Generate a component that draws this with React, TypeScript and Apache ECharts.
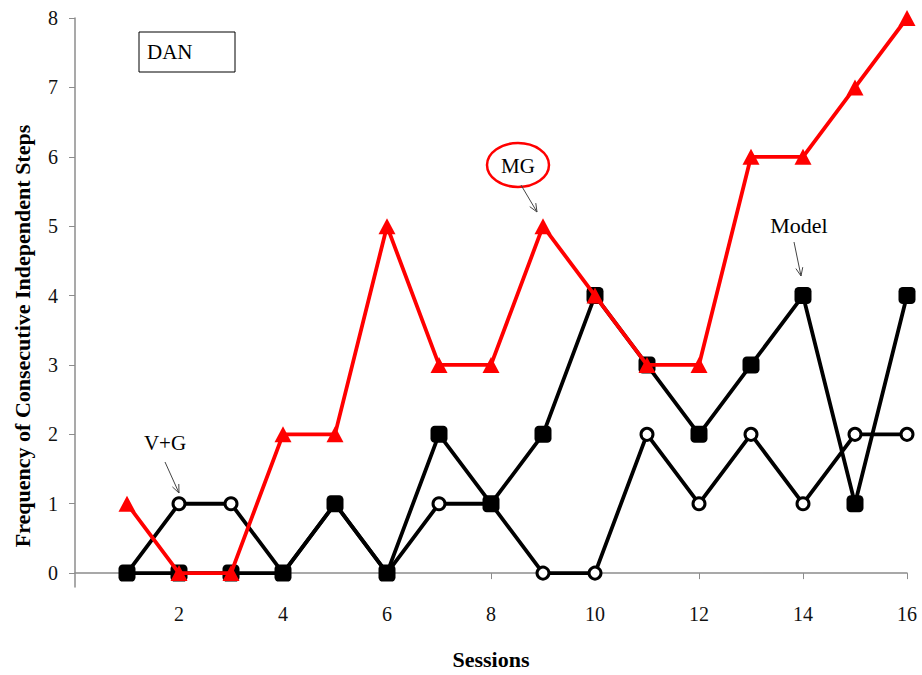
import React, { useEffect, useRef } from "react";
import * as echarts from "echarts";

const sessions = [1, 2, 3, 4, 5, 6, 7, 8, 9, 10, 11, 12, 13, 14, 15, 16];
const vgValues = [0, 1, 1, 0, 1, 0, 1, 1, 0, 0, 2, 1, 2, 1, 2, 2];
const modelValues = [0, 0, 0, 0, 1, 0, 2, 1, 2, 4, 3, 2, 3, 4, 1, 4];
const mgValues = [1, 0, 0, 2, 2, 5, 3, 3, 5, 4, 3, 3, 6, 6, 7, 8];
const xTicks = [2, 4, 6, 8, 10, 12, 14, 16];
const yTicks = [0, 1, 2, 3, 4, 5, 6, 7, 8];

const FONT = "'Liberation Serif', 'Times New Roman', serif";

function arrow(x1: number, y1: number, x2: number, y2: number) {
  const ang = Math.atan2(y2 - y1, x2 - x1);
  const L = 9;
  const spread = 0.4;
  const p1 = [x2 - L * Math.cos(ang - spread), y2 - L * Math.sin(ang - spread)];
  const p2 = [x2 - L * Math.cos(ang + spread), y2 - L * Math.sin(ang + spread)];
  const style = { stroke: "#444", lineWidth: 1, fill: "none" };
  return [
    { type: "line", shape: { x1, y1, x2, y2 }, style, z: 100 },
    { type: "polyline", shape: { points: [p1, [x2, y2], p2] }, style, z: 100 },
  ];
}

export default function App() {
  const ref = useRef<HTMLDivElement>(null);
  useEffect(() => {
    document.body.style.margin = "0";
    document.body.style.overflow = "hidden";
    if (!ref.current) return;
    const chart = echarts.init(ref.current, null, { renderer: "svg" });
    const pair = (vals: number[]) => sessions.map((s, i) => [s, vals[i]]);
    chart.setOption({
      animation: false,
      backgroundColor: "#fff",
      grid: { left: 75, right: 15, top: 18, bottom: 85 },
      xAxis: {
        type: "value",
        min: 0,
        max: 16,
        name: "Sessions",
        nameLocation: "middle",
        nameGap: 61,
        nameTextStyle: { fontFamily: FONT, fontWeight: "bold", fontSize: 22, color: "#000" },
        axisLine: { show: true, lineStyle: { color: "#8c8c8c", width: 1.5 } },
        axisTick: { show: true, customValues: xTicks, length: 6, lineStyle: { color: "#8c8c8c" } },
        axisLabel: { customValues: xTicks, margin: 17, fontFamily: FONT, fontSize: 20, color: "#111" },
        splitLine: { show: false },
      },
      yAxis: {
        type: "value",
        min: -0.2,
        max: 8,
        axisLine: { show: true, lineStyle: { color: "#8c8c8c", width: 1.5 } },
        axisTick: { show: true, customValues: yTicks, length: 6, lineStyle: { color: "#8c8c8c" } },
        axisLabel: { customValues: yTicks, margin: 17, fontFamily: FONT, fontSize: 20, color: "#111" },
        splitLine: { show: false },
      },
      graphic: [
        {
          type: "text",
          x: 22,
          y: 336,
          rotation: Math.PI / 2,
          style: {
            text: "Frequency of Consecutive Independent Steps",
            font: `bold 22px ${FONT}`,
            fill: "#000",
            textAlign: "center",
            textVerticalAlign: "middle",
          },
        },
        {
          type: "rect",
          shape: { x: 139, y: 32, width: 96, height: 40 },
          style: { fill: "#fff", stroke: "#000", lineWidth: 1 },
        },
        {
          type: "text",
          x: 147,
          y: 52,
          style: { text: "DAN", font: `21px ${FONT}`, fill: "#000", textVerticalAlign: "middle" },
        },
        {
          type: "ellipse",
          shape: { cx: 518, cy: 165, rx: 31, ry: 22 },
          style: { fill: "#fff", stroke: "#ff0000", lineWidth: 2.5 },
        },
        {
          type: "text",
          x: 518,
          y: 166,
          style: { text: "MG", font: `21px ${FONT}`, fill: "#000", textAlign: "center", textVerticalAlign: "middle" },
        },
        ...arrow(521, 185, 537, 212),
        {
          type: "text",
          x: 799,
          y: 225,
          style: { text: "Model", font: `22px ${FONT}`, fill: "#000", textAlign: "center", textVerticalAlign: "middle" },
        },
        ...arrow(794, 242, 801, 276),
        {
          type: "text",
          x: 165,
          y: 443,
          style: { text: "V+G", font: `21px ${FONT}`, fill: "#000", textAlign: "center", textVerticalAlign: "middle" },
        },
        ...arrow(165, 462, 179, 493),
      ],
      series: [
        {
          name: "V+G",
          type: "line",
          data: pair(vgValues),
          symbol: "circle",
          symbolSize: 12,
          showAllSymbol: true,
          lineStyle: { color: "#000", width: 3.8 },
          itemStyle: { color: "#fff", borderColor: "#000", borderWidth: 3 },
          z: 2,
        },
        {
          name: "Model",
          type: "line",
          data: pair(modelValues),
          symbol: "roundRect",
          symbolSize: 17,
          showAllSymbol: true,
          lineStyle: { color: "#000", width: 3.8 },
          itemStyle: { color: "#000", borderWidth: 0 },
          z: 3,
        },
        {
          name: "MG",
          type: "line",
          data: pair(mgValues),
          symbol: "triangle",
          symbolSize: [17, 16],
          showAllSymbol: true,
          lineStyle: { color: "#ff0000", width: 3.8 },
          itemStyle: { color: "#ff0000", borderWidth: 0 },
          z: 4,
        },
      ],
    });
    return () => chart.dispose();
  }, []);
  return <div ref={ref} style={{ width: 922, height: 675 }} />;
}
